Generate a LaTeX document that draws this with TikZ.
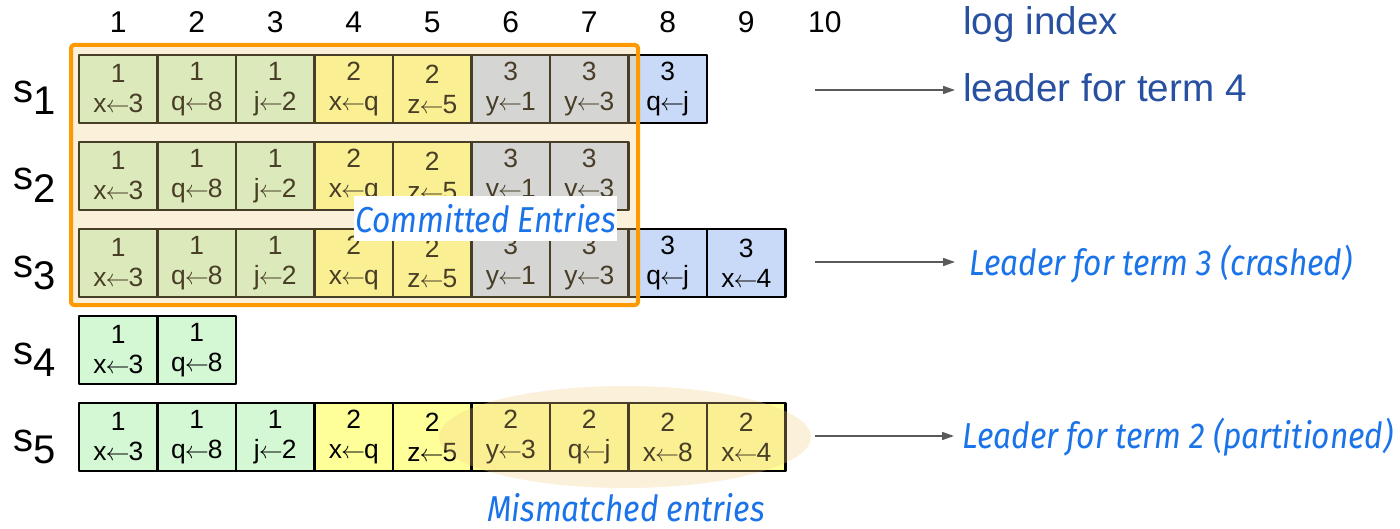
\documentclass[tikz,border=0pt]{standalone}
\usepackage{fontspec}
\setmainfont{Liberation Sans}
\newfontfamily\notefont[FakeStretch=0.88]{Fira Sans}
\usepackage{tikz}
\usetikzlibrary{arrows.meta}
\usetikzlibrary{positioning}

\definecolor{term1}{RGB}{212,247,212}
\definecolor{term2}{RGB}{255,255,153}
\definecolor{term3}{RGB}{201,218,248}
\definecolor{Cream}{RGB}{241,205,131}
\definecolor{BoxOrange}{RGB}{255,153,0}
\definecolor{IndexBlue}{RGB}{40,80,160}
\definecolor{NoteBlue}{RGB}{26,115,232}
\definecolor{ArrowGray}{RGB}{90,90,90}

\newcommand{\setto}{\kern-0.5pt$\leftarrow$\kern-0.5pt}

\begin{document}
\begin{tikzpicture}[x=0.5pt,y=-0.5pt,line join=round,
  entry/.style={draw=black,line width=1.4pt,minimum width=39.25pt,minimum height=34pt,
    inner sep=0pt,align=center,font=\fontsize{13.2}{15}\selectfont},
  index/.style={font=\fontsize{15}{18}\selectfont},
  server/.style={anchor=base west,inner sep=0pt,font=\fontsize{20}{22}\selectfont},
  lead/.style={anchor=base west,inner sep=0pt,text=IndexBlue,font=\fontsize{19.3}{22}\selectfont},
  note/.style={inner sep=0pt,text=NoteBlue,font=\notefont\itshape\fontsize{18}{21}\selectfont},
  >={Triangle[length=6pt,width=4pt]}]
\useasboundingbox (0,0) rectangle (1400,529);

% log entries, term/command
\foreach \r/\log in {
  1/{1/x\setto3,1/q\setto8,1/j\setto2,2/x\setto q,2/z\setto5,3/y\setto1,3/y\setto3,3/q\setto j},
  2/{1/x\setto3,1/q\setto8,1/j\setto2,2/x\setto q,2/z\setto5,3/y\setto1,3/y\setto3},
  3/{1/x\setto3,1/q\setto8,1/j\setto2,2/x\setto q,2/z\setto5,3/y\setto1,3/y\setto3,3/q\setto j,3/x\setto4},
  4/{1/x\setto3,1/q\setto8},
  5/{1/x\setto3,1/q\setto8,1/j\setto2,2/x\setto q,2/z\setto5,2/y\setto3,2/q\setto j,2/x\setto8,2/x\setto4}}
{
  \foreach \t/\c [count=\i] in \log
    \node[entry,fill=term\t] (e\r-\i) at ({39.75+78.5*\i},{2+87*\r}) {\t\\\c};
  \node[server] (s\r) at (13,{16+87*\r}) {s\raisebox{-6pt}{\r}};
}
\foreach \i in {1,...,10}
  \node[index] (n\i) at ({39.75+78.5*\i},22) {\i};

\fill[Cream,opacity=0.3] (71,45) rectangle (638,305);
\draw[BoxOrange,line width=2pt,rounded corners=1.5pt] (71,45) rectangle (638,305);
\fill[Cream,opacity=0.3] (625,437) ellipse [x radius=186,y radius=51];

\node[note,fill=white,minimum width=131.5pt,minimum height=22.5pt] (committed) at (485.5,218.5) {Committed Entries};
\node[note,anchor=base] (mismatch) at (626,521) {Mismatched entries};

\node[lead] (logidx) at (963,35) {log index};
\node[lead] (lead4) at (963,102) {leader for term 4};
\node[note,anchor=base west] (lead3) at (969,275) {Leader for term 3 (crashed)};
\node[note,anchor=base west] (lead2) at (962,448) {Leader for term 2 (partitioned)};

\coordinate (a1) at (815,90);
\coordinate (a3) at (815,262);
\coordinate (a5) at (815,436);
\draw[->,ArrowGray,line width=0.8pt,shorten >=4pt] (a1) -- (a1 -| lead4.west);
\draw[->,ArrowGray,line width=0.8pt,shorten >=7pt] (a3) -- (a3 -| lead3.west);
\draw[->,ArrowGray,line width=0.8pt,shorten >=4pt] (a5) -- (a5 -| lead2.west);
\end{tikzpicture}
\end{document}
